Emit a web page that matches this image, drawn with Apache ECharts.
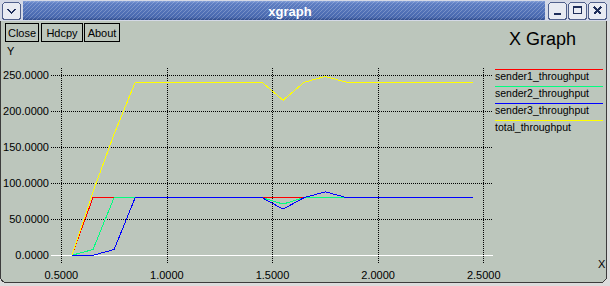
<!DOCTYPE html>
<html><head><meta charset="utf-8">
<script src="https://cdn.jsdelivr.net/npm/echarts@6/dist/echarts.min.js"></script>
<style>html,body{margin:0;padding:0;background:#dcdcdc;}#c{width:610px;height:286px;}
#c svg path{shape-rendering:crispEdges;}</style>
</head><body><div id="c"></div>
<script>
// ---- data ----
const xValues = [0.55, 0.65, 0.75, 0.85, 1.45, 1.55, 1.65, 1.75, 1.85, 2.45];
const sender1 = [0, 80, 80, 80, 80, 80, 80, 80, 80, 80];
const sender2 = [0, 8, 80, 80, 80, 71, 80, 80, 80, 80];
const sender3 = [0, 0, 8, 80, 80, 64, 80, 88, 80, 80];
const total   = [0, 88, 168, 240, 240, 215, 240, 248, 240, 240];
const seriesNames = ['sender1_throughput', 'sender2_throughput', 'sender3_throughput', 'total_throughput'];
const xTicks = [0.5, 1.0, 1.5, 2.0, 2.5];
const yTicks = [0, 50, 100, 150, 200, 250];
const buttonLabels = ['Close', 'Hdcpy', 'About'];
const windowTitle = 'xgraph';
const chartTitle = 'X Graph';
const xName = 'X';
const yName = 'Y';

// ---- styling ----
const seriesColors = ['#ff0000', '#00ff80', '#0000ff', '#ffff00'];
const FONT = '"Liberation Sans", Arial, Helvetica, sans-serif';
const dataSets = [sender1, sender2, sender3, total];
const toPairs = arr => xValues.map((x, i) => [x, arr[i]]);

const chart = echarts.init(document.getElementById('c'), null, {renderer: 'svg', width: 610, height: 286});

// hatch pattern for title bar
const hc = document.createElement('canvas'); hc.width = 4; hc.height = 4;
const hctx = hc.getContext('2d');
hctx.fillStyle = 'rgba(255,255,255,0.22)';
for (let i = 0; i < 4; i++) hctx.fillRect(i, 3 - i, 1, 1);

const g = [];
// window body
g.push({type: 'rect', z: -20, shape: {x: 0.5, y: 20.5, width: 606, height: 262, r: [0, 0, 6, 6]},
  style: {fill: '#bcc6bc', stroke: '#3c3c3c', lineWidth: 1}});
// title bar
g.push({type: 'rect', z: -19, shape: {x: 0, y: 0, width: 610, height: 21}, style: {fill: '#d4d9e6'}});
g.push({type: 'rect', z: -18, shape: {x: 23, y: 1, width: 522, height: 19},
  style: {fill: new echarts.graphic.LinearGradient(0, 0, 0, 1, [
    {offset: 0, color: '#86a0d6'}, {offset: 0.12, color: '#5f7fc4'},
    {offset: 0.85, color: '#4868ae'}, {offset: 1, color: '#304c8c'}])}});
g.push({type: 'rect', z: -17, shape: {x: 23, y: 1, width: 522, height: 19},
  style: {fill: {image: hc, repeat: 'repeat', imageWidth: 4, imageHeight: 4}}});
g.push({type: 'text', z: 50, x: 290, y: 11, style: {text: windowTitle, fill: '#ffffff',
  font: 'bold 13px ' + FONT, align: 'center', verticalAlign: 'middle'}});
// window buttons
function winBtn(x) {
  return {type: 'rect', z: -16, shape: {x: x + 0.5, y: 2.5, width: 18, height: 17, r: 3},
    style: {fill: '#e8ebf2', stroke: '#50608c', lineWidth: 1}};
}
g.push(winBtn(2));
g.push({type: 'polyline', z: -15, shape: {points: [[7.5, 9], [11.5, 13], [15.5, 9]]},
  style: {stroke: '#1e2e5a', lineWidth: 2, fill: null}});
g.push(winBtn(548));
g.push({type: 'rect', z: -15, shape: {x: 554, y: 13, width: 7, height: 2}, style: {fill: '#1e2e5a'}});
g.push(winBtn(568));
g.push({type: 'rect', z: -15, shape: {x: 573.5, y: 6.5, width: 8, height: 7}, style: {fill: null, stroke: '#1e2e5a', lineWidth: 1}});
g.push({type: 'rect', z: -15, shape: {x: 573, y: 6, width: 9, height: 2}, style: {fill: '#1e2e5a'}});
g.push(winBtn(588));
g.push({type: 'line', z: -15, shape: {x1: 594, y1: 7, x2: 601, y2: 14}, style: {stroke: '#1e2e5a', lineWidth: 2}});
g.push({type: 'line', z: -15, shape: {x1: 601, y1: 7, x2: 594, y2: 14}, style: {stroke: '#1e2e5a', lineWidth: 2}});
// app buttons
const btnBoxes = [[5, 33], [41, 41], [84, 35]];
buttonLabels.forEach((t, i) => {
  const [bx, bw] = btnBoxes[i];
  g.push({type: 'rect', z: -10, shape: {x: bx + 0.5, y: 23.5, width: bw, height: 18},
    style: {fill: '#bcc6bc', stroke: '#000000', lineWidth: 1}});
  g.push({type: 'text', z: 50, x: bx + 0.5 + bw / 2, y: 33, style: {text: t, fill: '#000',
    font: '11px ' + FONT, align: 'center', verticalAlign: 'middle'}});
});
// titles
g.push({type: 'text', z: 50, x: 509, y: 39, style: {text: chartTitle, fill: '#000',
  font: '18px ' + FONT, align: 'left', verticalAlign: 'middle'}});
g.push({type: 'text', z: 50, x: 7, y: 51, style: {text: yName, fill: '#000',
  font: '11px ' + FONT, align: 'left', verticalAlign: 'middle'}});
g.push({type: 'text', z: 50, x: 598, y: 264, style: {text: xName, fill: '#000',
  font: '11px ' + FONT, align: 'left', verticalAlign: 'middle'}});
// legend
seriesNames.forEach((n, i) => {
  const ly = 69.5 + 17 * i;
  g.push({type: 'line', z: 40, shape: {x1: 495, y1: ly, x2: 603, y2: ly},
    style: {stroke: seriesColors[i], lineWidth: 1}});
  g.push({type: 'text', z: 50, x: 495, y: ly + 6.5, style: {text: n, fill: '#000',
    font: '10.5px ' + FONT, align: 'left', verticalAlign: 'middle'}});
});

const labelStyle = {color: '#000', fontFamily: FONT, fontSize: 11};
const option = {
  backgroundColor: '#dcdcdc',
  animation: false,
  grid: {left: 51, right: 117, top: 68, bottom: 23, containLabel: false, outerBoundsMode: 'none'},
  xAxis: {
    type: 'value', min: 0.4512, max: 2.544,
    axisLine: {show: false},
    axisTick: {show: false, customValues: xTicks},
    axisLabel: Object.assign({customValues: xTicks, margin: 6, formatter: v => v.toFixed(4), hideOverlap: false}, labelStyle),
    splitLine: {show: true, lineStyle: {color: '#000', type: [1, 1], width: 1}}
  },
  yAxis: [{
    type: 'value', min: -10.7, max: 259.7,
    axisLine: {show: false},
    axisTick: {show: false, customValues: yTicks},
    axisLabel: Object.assign({customValues: yTicks, margin: 2, formatter: v => v.toFixed(4), hideOverlap: false}, labelStyle),
    splitLine: {show: true, lineStyle: {color: '#000', type: [1, 1], width: 1}}
  }, {
    type: 'value', min: -10.7, max: 259.7, position: 'left',
    axisLine: {show: false},
    axisTick: {show: false, customValues: [0]},
    axisLabel: {show: false, customValues: [0]},
    splitLine: {show: true, lineStyle: {color: '#ffffff', type: 'solid', width: 1}}
  }],
  series: dataSets.map((d, i) => ({
    type: 'line', name: seriesNames[i], data: toPairs(d), yAxisIndex: 0,
    symbol: 'none', z: 3 + i, silent: true,
    lineStyle: {color: seriesColors[i], width: 1},
    itemStyle: {color: seriesColors[i]}
  })),
  graphic: {elements: g}
};
chart.setOption(option);
</script></body></html>
